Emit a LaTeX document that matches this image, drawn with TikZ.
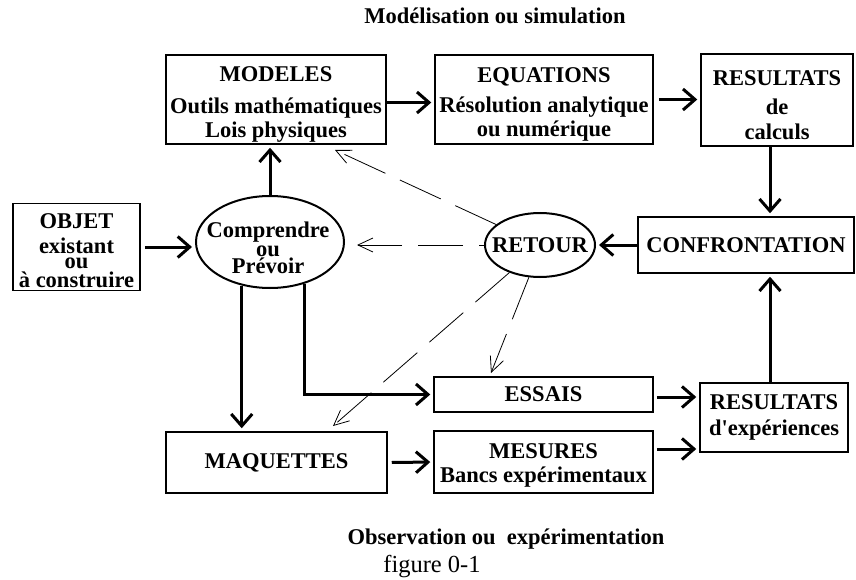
\documentclass[tikz,border=0pt]{standalone}
\usepackage{fontspec}
\setmainfont{Liberation Serif}
\newfontfamily\straightq[Ligatures=TeXOff]{Liberation Serif}
\usetikzlibrary{arrows.meta,shapes.geometric,calc}
\begin{document}
\begin{tikzpicture}[x=1pt,y=-1pt,
  bigfont/.style={font=\fontsize{22.5}{23.5}\selectfont\bfseries},
  box/.style={draw,line width=1.5pt,rectangle,inner sep=0pt,align=center,bigfont},
  oval/.style={draw,line width=2pt,ellipse,inner sep=0pt},
  txt/.style={inner sep=0pt,align=center,bigfont},
  flow/.style={line width=3pt,shorten >=3pt,-{Straight Barb[length=12pt,width=21pt]}},
  back/.style={line width=0.8pt,dash pattern=on 45pt off 16pt,-{Straight Barb[length=15pt,width=14pt]}}]
\useasboundingbox (0,0) rectangle (856,580);

% captions
\node[txt,anchor=base] (cap1) at (495,24) {Modélisation ou simulation};
\node[txt,anchor=base] (cap2) at (506,544) {Observation ou~~expérimentation};
\node[inner sep=0pt,anchor=base,font=\fontsize{24.5}{25}\selectfont] (fig) at (432,572) {figure 0-1};

% boxes
\node[box,minimum width=220,minimum height=89] (modeles) at (276,99.5)
  {\rule{0pt}{24pt}MODELES\\[9pt]Outils mathématiques\\Lois physiques};
\node[box,minimum width=218,minimum height=89] (equations) at (544,99.5)
  {\rule{0pt}{24pt}EQUATIONS\\[7pt]Résolution analytique\\ou numérique};
\node[box,minimum width=152,minimum height=92] (rescalc) at (777,100)
  {\rule{0pt}{26pt}RESULTATS\\[5pt]de\\[2pt]calculs};
\node[box,minimum width=127,minimum height=87] (objet) at (76.5,247)
  {\rule{0pt}{22pt}OBJET\\[1pt]existant\\[-8pt]ou\\[-5pt]à construire};
\node[box,minimum width=216,minimum height=56] (confront) at (746,245) {CONFRONTATION};
\node[box,minimum width=219,minimum height=35] (essais) at (543.5,394.5) {ESSAIS};
\node[box,minimum width=219,minimum height=62] (mesures) at (543.5,462)
  {\rule{0pt}{22pt}MESURES\\Bancs expérimentaux};
\node[box,minimum width=221,minimum height=61] (maquettes) at (276.5,462.5) {MAQUETTES};
\node[box,minimum width=148,minimum height=69] (resexp) at (774,417.5)
  {RESULTATS\\[2pt]d{\straightq '}expériences};

% ellipses
\node[oval,minimum width=148,minimum height=92] (comp) at (270,242) {};
\node[txt] (comptxt) at (268,248) {Comprendre\\[-5pt]ou\\[-6pt]Prévoir};
\node[oval,minimum width=110,minimum height=64] (retour) at (540,245) {};
\node[txt] (retourtxt) at (retour.center) {RETOUR};

% thick flows
\draw[flow] ([xshift=4pt]objet.east) -- (objet.east -| comp.west);
\draw[flow] (comp.north) -- (comp.north |- modeles.south);
\draw[flow] ([yshift=-3pt]modeles.east) -- ([yshift=-3pt]modeles.east -| equations.west);
\draw[flow] ([xshift=5pt]equations.east) -- (equations.east -| rescalc.west);
\draw[flow] ([xshift=-7pt]rescalc.south) -- ([xshift=-7pt]rescalc.south |- confront.north);
\draw[flow] (confront.west) -- (retour.east);
\draw[flow] ([xshift=-4pt]resexp.north) -- ([xshift=-4pt]resexp.north |- confront.south);
\draw[flow] (comp.237.8) -- (comp.237.8 |- maquettes.north);
\draw[flow] (comp.310.8) |- (essais.west);
\draw[flow] ([xshift=4pt]maquettes.east) -- (mesures.west);
\draw[flow] ([xshift=3pt,yshift=-2.5pt]essais.east) -- ([yshift=-2.5pt]essais.east -| resexp.west);
\draw[flow] ([xshift=3pt,yshift=13pt]mesures.east) -- ([yshift=13pt]mesures.east -| resexp.west);

% dashed return arrows
\coordinate (t1) at (335,150);
\coordinate (t2) at (357,245);
\coordinate (t3) at (333,426);
\coordinate (t4) at (491,373);
\draw[back] (retour.155) -- (t1);
\draw[back,dash phase=40pt] (retour.west) -- (t2);
\draw[back] (retour.222) -- (t3);
\draw[back] (retour.251) -- (t4);
\end{tikzpicture}
\end{document}
